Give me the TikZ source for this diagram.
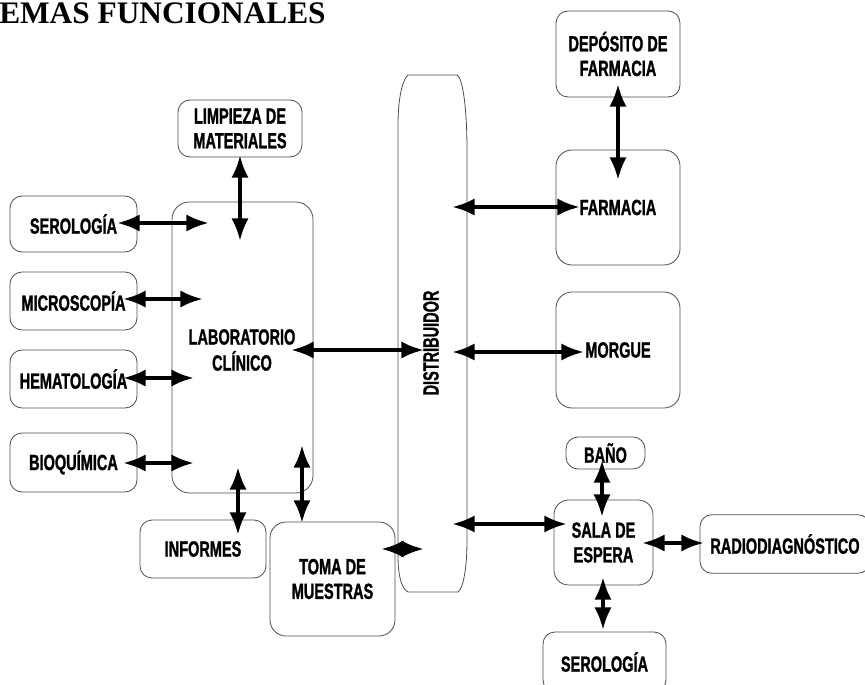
\documentclass[tikz,border=0pt]{standalone}
\usepackage{fontspec}
\usetikzlibrary{arrows.meta}
\newfontfamily\boxfont{Liberation Sans Bold}[FakeStretch=0.66,FakeBold=1.2]
\newfontfamily\titlefont{Liberation Serif Bold}
\begin{document}
\begin{tikzpicture}[x=0.75pt,y=-0.75pt,
  box/.style={draw=black!70, line width=0.6pt, rounded corners=9pt, inner sep=0pt,
    align=center, font=\boxfont\fontsize{16.5pt}{18.5pt}\selectfont},
  dbl/.style={{Latex[length=17pt,width=13pt]}-{Latex[length=17pt,width=13pt]}, line width=3pt}]
\useasboundingbox (0,0) rectangle (865,685);
\begin{scope}
\clip (0,0) rectangle (865,685);
% title
\node[anchor=base west, inner sep=0pt, font=\titlefont\fontsize{23.5pt}{28pt}\selectfont] (title) at (-1,24) {EMAS FUNCIONALES};
% left column
\node[box, minimum width=93pt, minimum height=42.75pt] (limp) at (240,128.5) {LIMPIEZA DE\\MATERIALES};
\node[box, minimum width=95.25pt, minimum height=42pt] (serL) at (73.5,224) {SEROLOGÍA};
\node[box, minimum width=95.25pt, minimum height=43.5pt] (micro) at (73.5,301) {MICROSCOPÍA};
\node[box, minimum width=95.25pt, minimum height=43.5pt] (hema) at (73.5,379) {HEMATOLOGÍA};
\node[box, minimum width=95.25pt, minimum height=44.25pt] (bioq) at (73.5,462.5) {BIOQUÍMICA};
\node[box, rounded corners=13pt, minimum width=105.75pt, minimum height=218.25pt] (lab) at (242.5,347.5) {};
\node[align=center, inner sep=0pt, font=\boxfont\fontsize{16.5pt}{19.5pt}\selectfont] (labt) at (242,350) {LABORATORIO\\CLÍNICO};
\node[box, minimum width=94.5pt, minimum height=43.5pt] (inf) at (203,549) {\raisebox{-3pt}{INFORMES}};
\node[box, rounded corners=12pt, minimum width=93.75pt, minimum height=85.5pt] (toma) at (332.5,579) {TOMA DE\\MUESTRAS};
% distribuidor
\draw[draw=black!70, line width=0.6pt] (408,75) -- (457,75) .. controls (463,78) and (467,110) .. (467,150) -- (467,540) .. controls (467,570) and (463,588) .. (458,592) -- (408,592) .. controls (401,588) and (398,575) .. (398,555) -- (398,125) .. controls (398,100) and (402,80) .. (408,75) -- cycle;
\node[rotate=90, inner sep=0pt, font=\boxfont\fontsize{16.5pt}{18pt}\selectfont] (dist) at (431,343) {DISTRIBUIDOR};
% right column
\node[box, minimum width=93pt, minimum height=64.5pt] (dep) at (618,54) {DEPÓSITO DE\\FARMACIA};
\node[box, rounded corners=12pt, minimum width=93pt, minimum height=86.25pt] (farm) at (618,207.5) {FARMACIA};
\node[box, rounded corners=12pt, minimum width=93pt, minimum height=87pt] (morg) at (618,350) {MORGUE};
\node[box, minimum width=59.25pt, minimum height=24pt] (bano) at (605.5,453) {BAÑO};
\node[box, rounded corners=11pt, minimum width=74.25pt, minimum height=63.75pt] (sala) at (603.5,542.5) {SALA DE\\ESPERA};
\node[box, minimum width=127.5pt, minimum height=44pt] (radio) at (785,544) {RADIODIAGNÓSTICO};
\node[box, minimum width=92.25pt, minimum height=45pt] (serB) at (604.5,662) {SEROLOGÍA};
% arrow end points
\coordinate (a1) at (240,155); \coordinate (b1) at (240,241);
\coordinate (a2) at (117,223); \coordinate (b2) at (209,223);
\coordinate (a3) at (123,299); \coordinate (b3) at (203,299);
\coordinate (a4) at (123,378); \coordinate (b4) at (194,378);
\coordinate (a5) at (123,463); \coordinate (b5) at (194,463);
\coordinate (a6) at (291,350); \coordinate (b6) at (424,350);
\coordinate (a7) at (238,467); \coordinate (b7) at (238,535);
\coordinate (a8) at (302,445); \coordinate (b8) at (302,523);
\coordinate (a9) at (381,549); \coordinate (b9) at (424,549);
\coordinate (a10) at (452,207); \coordinate (b10) at (580,207);
\coordinate (a11) at (452,352); \coordinate (b11) at (584,352);
\coordinate (a12) at (452,524); \coordinate (b12) at (567,524);
\coordinate (a13) at (618,84); \coordinate (b13) at (618,180);
\coordinate (a14) at (602,460); \coordinate (b14) at (602,517);
\coordinate (a15) at (642,543); \coordinate (b15) at (704,543);
\coordinate (a16) at (603,577); \coordinate (b16) at (603,630);
\foreach \i in {1,...,16} {\draw[dbl] (a\i) -- (b\i);}
\end{scope}
\end{tikzpicture}
\end{document}
